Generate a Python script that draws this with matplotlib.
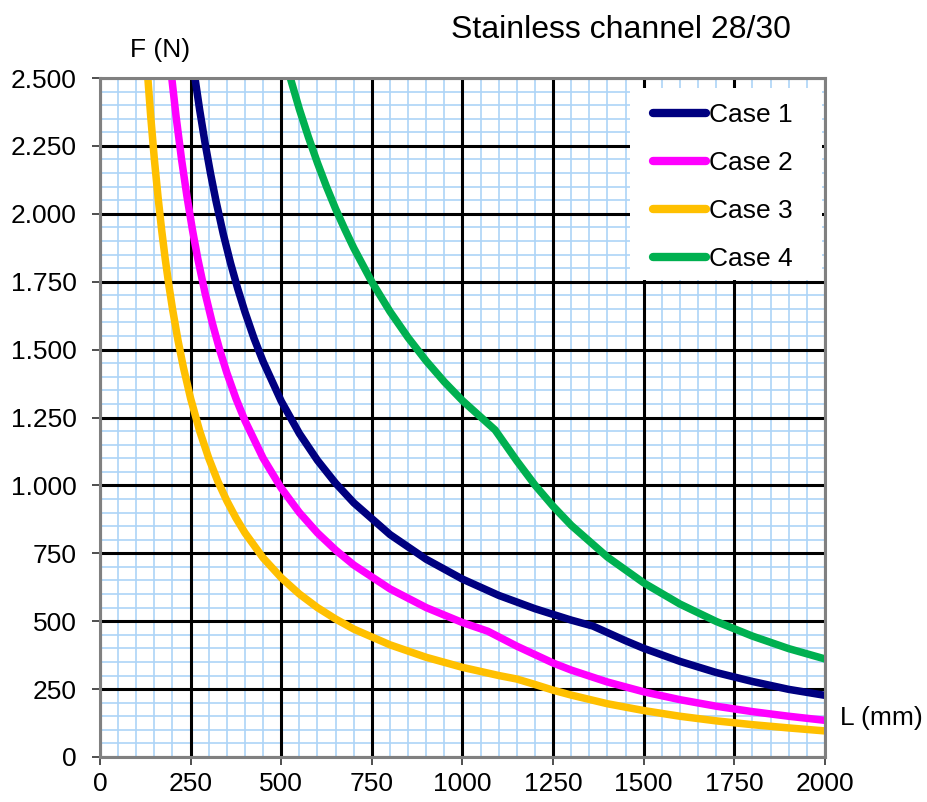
import matplotlib
matplotlib.use('Agg')
import matplotlib.pyplot as plt
from matplotlib.ticker import MultipleLocator, FuncFormatter
from matplotlib.patches import Rectangle

plt.rcParams['font.family'] = ['Liberation Sans', 'DejaVu Sans']

# values (L in mm, F in N)
L_case1 = [262, 275, 290, 305, 320, 340, 360, 380, 400, 425, 450, 500, 550, 600, 650, 700,
           800, 900, 1000, 1100, 1200, 1300, 1360, 1450, 1500, 1600, 1700, 1800, 1900, 2000]
F_case1 = [2500, 2382, 2259, 2148, 2047, 1926, 1819, 1724, 1638, 1541, 1456, 1310, 1191, 1092,
           1008, 936, 819, 728, 655, 595, 546, 504, 482, 428, 400, 352, 311, 278, 249, 227]

L_case2 = [198, 210, 225, 240, 255, 270, 290, 310, 330, 350, 375, 400, 450, 500, 550, 600,
           650, 700, 800, 900, 1000, 1070, 1150, 1250, 1300, 1400, 1500, 1600, 1700, 1800,
           1900, 2000]
F_case2 = [2500, 2357, 2200, 2063, 1941, 1833, 1707, 1597, 1500, 1414, 1320, 1238, 1100, 990,
           900, 825, 762, 707, 619, 550, 495, 463, 408, 346, 320, 276, 240, 211, 187, 167,
           150, 135]

L_case3 = [132, 140, 150, 160, 170, 180, 190, 200, 215, 230, 250, 275, 300, 325, 350, 375,
           400, 450, 500, 550, 600, 650, 700, 800, 900, 1000, 1100, 1150, 1200, 1250, 1300,
           1400, 1500, 1600, 1700, 1800, 1900, 2000]
F_case3 = [2500, 2357, 2200, 2063, 1941, 1833, 1737, 1650, 1535, 1435, 1320, 1200, 1100, 1015,
           943, 880, 825, 733, 660, 600, 550, 508, 471, 413, 367, 330, 300, 287, 267, 246, 228,
           196, 171, 150, 133, 119, 107, 96]

L_case4 = [525, 550, 575, 600, 625, 650, 675, 700, 750, 800, 850, 900, 950, 1000, 1090, 1150,
           1200, 1250, 1300, 1400, 1500, 1600, 1700, 1800, 1900, 2000]
F_case4 = [2500, 2385, 2282, 2187, 2099, 2018, 1944, 1874, 1749, 1640, 1544, 1458, 1381, 1312,
           1204, 1090, 1001, 923, 853, 736, 641, 563, 499, 445, 399, 361]

labels = ['Case 1', 'Case 2', 'Case 3', 'Case 4']
colors = ['#000080', '#FF00FF', '#FFC000', '#00B050']

fig = plt.figure(figsize=(9.28, 8.02), dpi=100)
ax = fig.add_axes([100 / 928, 1 - 757 / 802, 725 / 928, 679 / 802])

series = [(L_case1, F_case1), (L_case2, F_case2), (L_case3, F_case3), (L_case4, F_case4)]
for (xs, ys), lab, col in zip(series, labels, colors):
    ax.plot(xs, ys, color=col, lw=5.4, label=lab, solid_capstyle='butt',
            solid_joinstyle='round', zorder=3)

ax.set_xlim(0, 2000)
ax.set_ylim(0, 2500)
ax.xaxis.set_major_locator(MultipleLocator(250))
ax.yaxis.set_major_locator(MultipleLocator(250))
ax.xaxis.set_minor_locator(MultipleLocator(50))
ax.yaxis.set_minor_locator(MultipleLocator(50))
ax.yaxis.set_major_formatter(FuncFormatter(lambda v, p: f"{v:,.0f}".replace(',', '.')))

# light blue minor grid, black major grid drawn on top of it
ax.grid(which='minor', color='#ADD4F7', lw=1.2, zorder=1)
for xv in ax.get_xticks():
    ax.axvline(xv, color='black', lw=2.2, zorder=2)
for yv in ax.get_yticks():
    ax.axhline(yv, color='black', lw=2.2, zorder=2)
ax.set_axisbelow(True)

for s in ax.spines.values():
    s.set_color('#808080')
    s.set_linewidth(2.2)
    s.set_zorder(6)
ax.tick_params(which='major', direction='out', length=6, width=1.3, color='#404040',
               labelsize=19)
ax.tick_params(axis='y', pad=11)
ax.tick_params(axis='x', pad=5)
ax.tick_params(which='minor', length=0)

fig.text(621 / 928, 1 - 30 / 802, 'Stainless channel 28/30', fontsize=23,
         ha='center', va='center')
fig.text(160 / 928, 1 - 50 / 802, 'F (N)', fontsize=19, ha='center', va='center')
fig.text(881 / 928, 1 - 718 / 802, 'L (mm)', fontsize=19, ha='center', va='center')

# white legend box like the Excel one
ax.add_patch(Rectangle(((630 - 100) / 725, (757 - 280) / 679), 192 / 725, 192 / 679,
                       transform=ax.transAxes, facecolor='white', edgecolor='none',
                       zorder=4))
leg = ax.legend(loc='upper left', bbox_to_anchor=((653 - 100) / 725, (757 - 103) / 679),
                fontsize=19, frameon=False, handlelength=2.0, handletextpad=0.12,
                labelspacing=0.91, borderpad=0, borderaxespad=0)
leg.set_zorder(5)
for h in leg.get_lines():
    h.set_solid_capstyle('round')
    h.set_linewidth(6)

fig.savefig('out.png', dpi=100, facecolor='white')
